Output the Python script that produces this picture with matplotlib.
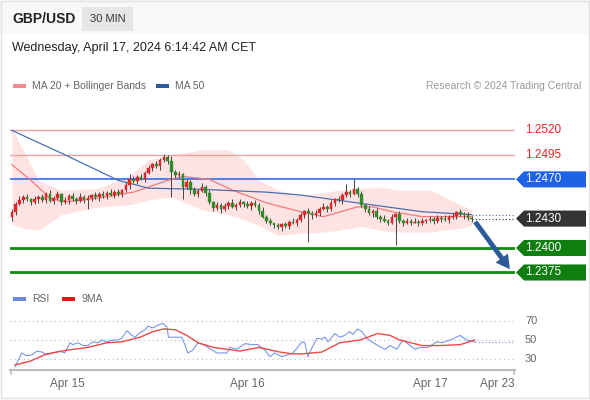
import matplotlib
matplotlib.use("Agg")
import matplotlib.pyplot as plt
from matplotlib.patches import Polygon, Rectangle
import matplotlib.transforms as mtrans
import numpy as np

closes = [1.2437,1.2445,1.2449,1.2452,1.2450,1.2447,1.2450,1.2452,1.2449,1.2455,
          1.2448,1.2451,1.2455,1.2447,1.2449,1.2453,1.2450,1.2448,1.2452,1.2449,
          1.2451,1.2454,1.2452,1.2455,1.2453,1.2456,1.2454,1.2457,1.2455,1.2459,
          1.2464,1.2470,1.2468,1.2472,1.2470,1.2477,1.2482,1.2486,1.2484,1.2490,
          1.2493,1.2489,1.2478,1.2474,1.2476,1.2462,1.2467,1.2459,1.2455,1.2458,
          1.2462,1.2456,1.2447,1.2441,1.2444,1.2440,1.2443,1.2446,1.2442,1.2444,
          1.2447,1.2445,1.2443,1.2446,1.2444,1.2438,1.2432,1.2428,1.2425,1.2423,
          1.2421,1.2424,1.2422,1.2427,1.2425,1.2429,1.2434,1.2438,1.2436,1.2434,
          1.2436,1.2440,1.2442,1.2440,1.2446,1.2450,1.2449,1.2454,1.2457,1.2455,
          1.2460,1.2455,1.2444,1.2440,1.2436,1.2438,1.2432,1.2430,1.2428,1.2426,
          1.2432,1.2435,1.2428,1.2426,1.2428,1.2426,1.2427,1.2425,1.2428,1.2429,
          1.2430,1.2428,1.2431,1.2430,1.2429,1.2432,1.2433,1.2437,1.2435,1.2434,
          1.2431,1.2430]
first_open = 1.2432
wick_pattern = [0.0003,0.0002,0.0004,0.0002,0.0003,0.0001,0.0003,0.0002]
spike_high = {40: 1.2496, 42: 1.2494, 90: 1.2470, 88: 1.2465, 31: 1.2476}
spike_low = {0: 1.2428, 42: 1.2452, 45: 1.2450, 78: 1.2406, 101: 1.2403, 20: 1.2440}

band_x = [0,3,7,13,23,31,36,42,50,57,61,65,70,76,81,86,92,97,102,110,113,118,121]
band_up = [1.2522,1.2500,1.2469,1.2459,1.2461,1.2474,1.2490,1.2495,1.2500,1.2500,1.2490,1.2469,
           1.2459,1.2454,1.2456,1.2459,1.2461,1.2462,1.2459,1.2459,1.2454,1.2444,1.2439]
band_lo = [1.2424,1.2420,1.2418,1.2434,1.2442,1.2444,1.2449,1.2452,1.2439,1.2434,1.2429,1.2423,
           1.2413,1.2415,1.2416,1.2418,1.2422,1.2418,1.2416,1.2416,1.2418,1.2420,1.2423]
ma20_x = [0,5,10,14,23,32,41,45,52,58,67,76,82,91,95,100,108,117,121]
ma20 = [1.2485,1.2469,1.2451,1.2447,1.2451,1.2457,1.2469,1.2473,1.2470,1.2459,1.2446,1.2437,
        1.2432,1.2442,1.2442,1.2437,1.2432,1.2432,1.2432]
ma50_x = [0,14,28,36,49,67,76,91,108,121]
ma50 = [1.2520,1.2495,1.2469,1.2461,1.2460,1.2457,1.2454,1.2446,1.2437,1.2434]

rsi_x = [0.8,2.6,3.9,5.3,6.6,7.9,9.2,10.8,12.6,13.9,15.3,16,17.4,18.7,20,21.3,22.6,23.7,25,26.6,
         27.9,28.9,30.3,31.6,32.4,33.7,35,35.8,37.1,38.4,39.7,40.8,41.2,42.4,44.7,45.5,46.3,47.6,
         48.9,50.3,51.6,53.9,56.6,57.4,59.2,61.3,63.4,64.7,66.6,67.9,69.2,71,72.6,73.9,75,76.3,
         77.1,77.9,78.9,80.3,81.6,82.4,83.2,85,86.3,87.6,88.9,89.7,91,92.1,93.4,94.7,96.3,98.2,
         99.5,101.3,102.9,104.2,106.1,107.4,109.5,111.8,113.2,114.5,116,117.9,119.7,121.8]
rsi = [21,36,33,34,38,37,34,36,38,36,47,45,47,44,44,48,47,50,48,50,
       50,52,60,55,53,58,61,65,63,66,68,64,53,53,53,45,36,39,
       47,45,42,36,36,42,40,46,45,45,39,32,36,32,34,36,41,48,
       47,32,41,52,51,53,48,57,53,55,59,56,62,59,52,48,44,40,
       44,40,50,46,40,42,42,48,47,49,51,55,50,48]
ma9_x = [0.8,4.7,9.2,14.5,20,25,28.9,33.7,37.1,40,43,46,49,53,56.6,60,65,70.5,73.9,76.3,81.6,
         86.3,91.6,96.3,99.5,102,108,112.6,118,121.8]
ma9 = [23,27,35,39,42,47,48,53,59,62,61,55,47,42,40,38,42,37,35,35,37,47,50,57,55,50,44,44,
       45,50]

levels_red = [1.2520, 1.2495]
level_blue = 1.2470
level_last = 1.2430
level_ma50_last = 1.2434
levels_green = [1.2400, 1.2375]
tick_pos = [14.5, 62.1, 110, 127.6]
tick_labels = ["Apr 15", "Apr 16", "Apr 17", "Apr 23"]

W, H = 590, 400
fig = plt.figure(figsize=(W/100, H/100), dpi=100)
fig.patch.set_facecolor("white")

def fx(px): return px / W
def fy(py): return 1 - py / H

FONT = "Liberation Sans"
XL = (-0.5, 132.4)
ax = fig.add_axes([fx(10), fy(282), fx(515) - fx(10), (282 - 100) / H])
ax.set_xlim(*XL)
ax.set_ylim(1.23653, 1.25510)
ax.axis("off")

ax.fill_between(band_x, band_lo, band_up, color="#ffdede", alpha=0.85, lw=0, zorder=1)
ax.plot(ma20_x, ma20, color="#f47a7a", lw=0.9, zorder=3)
ax.plot(ma50_x, ma50, color="#4a6fb0", lw=0.9, zorder=3)
for lv in levels_red:
    ax.axhline(lv, color="#f5a0a0", lw=1.0, zorder=2)
ax.axhline(level_blue, color="#1e63e6", lw=1.1, zorder=2)
for lv in levels_green:
    ax.axhline(lv, color="#138a13", lw=2.0, zorder=2)

opens = [first_open] + closes[:-1]
for i, (o, c) in enumerate(zip(opens, closes)):
    w = wick_pattern[i % len(wick_pattern)]
    hi = spike_high.get(i, max(o, c) + w)
    lo = spike_low.get(i, min(o, c) - wick_pattern[(i + 3) % len(wick_pattern)])
    ax.vlines(i, lo, hi, color="#444444", lw=0.7, zorder=4)
    col = "#e0262c" if c >= o else "#2f8a2a"
    b = max(abs(c - o), 0.00006)
    ax.add_patch(Rectangle((i - 0.35, min(o, c)), 0.7, b, facecolor=col, edgecolor=col, lw=0.3, zorder=5))

n = len(closes)
ax.plot([n - 1, XL[1]], [level_last, level_last], color="#333333", lw=0.8, ls=(0, (1, 2)), zorder=2)
ax.plot([n - 1, XL[1]], [level_ma50_last, level_ma50_last], color="#4a6fb0", lw=0.8, ls=(0, (1, 2)), zorder=2)
ax.annotate("", xy=(131.5, 1.2376), xytext=(n - 0.5, 1.2429),
            arrowprops=dict(arrowstyle="simple,head_width=1.1,head_length=1.0,tail_width=0.35",
                            color="#2d5a9b", lw=0), zorder=6)

tr = mtrans.blended_transform_factory(ax.transAxes, ax.transData)
def ax_x(px): return (px - 10) / 505
h = 0.00082
def tag(lv, color, txtcol="white", box=True):
    if box:
        pts = [(ax_x(516), lv), (ax_x(524), lv + h), (ax_x(586), lv + h), (ax_x(586), lv - h), (ax_x(524), lv - h)]
        ax.add_patch(Polygon(pts, closed=True, transform=tr, facecolor=color, edgecolor="none", clip_on=False, zorder=7))
    ax.text(ax_x(525), lv, f"{lv:.4f}", transform=tr, color=txtcol, fontsize=8.5, va="center", ha="left",
            family=FONT, clip_on=False, zorder=8)
for lv in levels_red:
    tag(lv, None, "#ee2222", box=False)
tag(level_blue, "#1e63e6")
tag(level_last, "#333333")
for lv in levels_green:
    tag(lv, "#0f7d0f")

# RSI panel
ax2 = fig.add_axes([fx(10), fy(370), fx(515) - fx(10), (370 - 300) / H])
ax2.set_xlim(*XL)
ax2.set_ylim(17.6, 93.2)
for s in ["top", "right", "left"]:
    ax2.spines[s].set_visible(False)
ax2.spines["bottom"].set_color("#bbbbbb")
ax2.spines["bottom"].set_linewidth(1.5)
ax2.set_yticks([])
for g in [70, 50, 30]:
    ax2.axhline(g, color="#bbbbbb", lw=0.8, ls=(0, (1, 3)))
    ax2.text(ax_x(525), g, str(g), transform=mtrans.blended_transform_factory(ax2.transAxes, ax2.transData),
             fontsize=8, color="#666666", va="center", family=FONT, clip_on=False)
ax2.plot(rsi_x, rsi, color="#7a95e8", lw=0.8)
ax2.plot(ma9_x, ma9, color="#f04848", lw=1.0)
ax2.plot([rsi_x[-1], XL[1]], [48, 48], color="#7a95e8", lw=0.8, ls=(0, (1, 2)))
ax2.set_xticks(tick_pos)
ax2.set_xticklabels(tick_labels, fontsize=8.5, color="#666666", family=FONT)
ax2.tick_params(axis="x", length=0, pad=6)
for xe in [XL[0] + 0.3, XL[1] - 0.3]:
    ax2.plot([xe, xe], [17.6, 13], color="#bbbbbb", lw=1.2, clip_on=False)

# header
fig.patches.append(Rectangle((0, fy(34)), 1, 34 / H, transform=fig.transFigure,
                             facecolor="#f8f8f8", edgecolor="none"))
fig.patches.append(Rectangle((fx(1), fy(398)), fx(588), (397) / H, transform=fig.transFigure,
                             fill=False, edgecolor="#e3e3e3", lw=1))
fig.text(fx(12), fy(19), "GBP/USD", fontsize=10, weight="bold", color="#222222", va="center", family=FONT)
fig.patches.append(Rectangle((fx(82), fy(31)), fx(51), 24 / H, transform=fig.transFigure,
                             facecolor="#e6e6e6", edgecolor="none"))
fig.text(fx(107.5), fy(19), "30 MIN", fontsize=8, color="#333333", va="center", ha="center", family=FONT)
fig.text(fx(12), fy(48), "Wednesday, April 17, 2024 6:14:42 AM CET", fontsize=9, color="#222222", va="center",
         family=FONT)
fig.patches.append(Rectangle((fx(13), fy(88)), fx(13), 4 / H, transform=fig.transFigure, facecolor="#f58a8a"))
fig.text(fx(32), fy(86), "MA 20 + Bollinger Bands", fontsize=7.5, color="#666666", va="center", family=FONT)
fig.patches.append(Rectangle((fx(156), fy(88)), fx(13), 4 / H, transform=fig.transFigure, facecolor="#2d5a9b"))
fig.text(fx(175), fy(86), "MA 50", fontsize=7.5, color="#666666", va="center", family=FONT)
fig.text(fx(581), fy(86), "Research © 2024 Trading Central", fontsize=7.5, color="#999999", va="center", ha="right",
         family=FONT)
fig.patches.append(Rectangle((fx(13), fy(301)), fx(13), 4 / H, transform=fig.transFigure, facecolor="#6a88e0"))
fig.text(fx(32), fy(299), "RSI", fontsize=7.5, color="#666666", va="center", family=FONT)
fig.patches.append(Rectangle((fx(62), fy(301)), fx(13), 4 / H, transform=fig.transFigure, facecolor="#ee1111"))
fig.text(fx(81), fy(299), "9MA", fontsize=7.5, color="#666666", va="center", family=FONT)

fig.savefig("out.png", dpi=100)
